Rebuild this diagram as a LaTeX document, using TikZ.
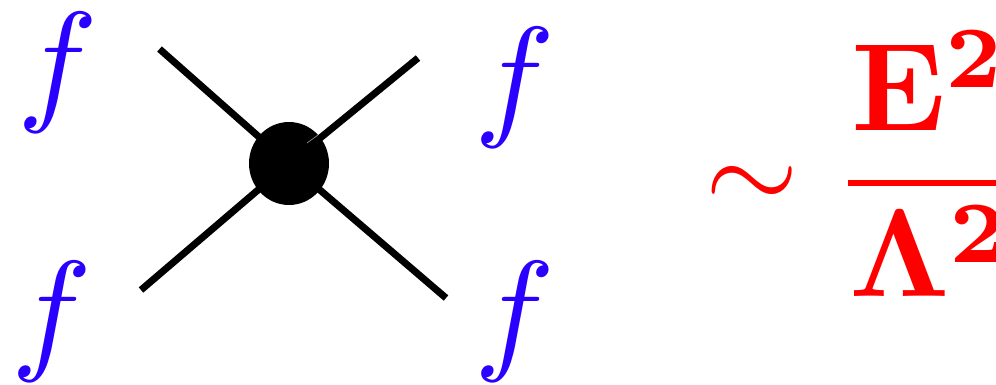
\documentclass[tikz,border=0pt]{standalone}
\usepackage{amsmath,amssymb,xcolor}
\usetikzlibrary{positioning,calc,shapes.geometric}
\definecolor{cBlue}{HTML}{2A00FF}
\definecolor{cRed}{HTML}{FF0000}
\newcommand{\raisedtwo}[1]{\raisebox{#1}{$\scriptstyle\boldsymbol{2}$}}
\begin{document}
\begin{tikzpicture}[
 x=1pt,y=1pt,line cap=butt,
 leg/.style={draw=black,line width=7pt},
 blob/.style={ellipse,fill=black,minimum width=80pt,minimum height=83pt,inner sep=0pt},
 fermion/.style={text=cBlue,inner sep=0pt,scale=13.5},
 ratio/.style={text=cRed,inner sep=0pt,scale=12.5}]
\path[use as bounding box] (0,0) rectangle (996,384);

\node[blob] (vertex) at (289,220.5) {};
\coordinate (ul) at (159.5,335);
\coordinate (ur) at (418,326);
\coordinate (ll) at (141,94);
\coordinate (lr) at (446,86);
\draw[leg] (ul) -- (vertex.center);
\draw[leg] (ll) -- (vertex.center);
\draw[leg] (lr) -- (vertex.center);
\draw[leg] (ur) -- (vertex.center);
\draw[black!45,line width=.7pt] (307,241) -- (318,249);

\node[fermion] (f1) at (58,311) {$f$};
\node[fermion] (f2) at (515,296) {$f$};
\node[fermion] (f3) at (52,62) {$f$};
\node[fermion] (f4) at (515,62) {$f$};

\node[text=cRed,inner sep=0pt,scale=12] (sim) at (752,196) {$\sim$};
\node[ratio,anchor=base west] (num) at (848.5,253) {$\boldsymbol{\mathrm{E}}\raisedtwo{3.5pt}$};
\node[ratio,anchor=base west] (den) at (846.5,87) {$\boldsymbol{\Lambda}\raisedtwo{2.8pt}$};
\draw[cRed,line width=5.2pt] (848,201) -- (996,201);
\end{tikzpicture}
\end{document}
